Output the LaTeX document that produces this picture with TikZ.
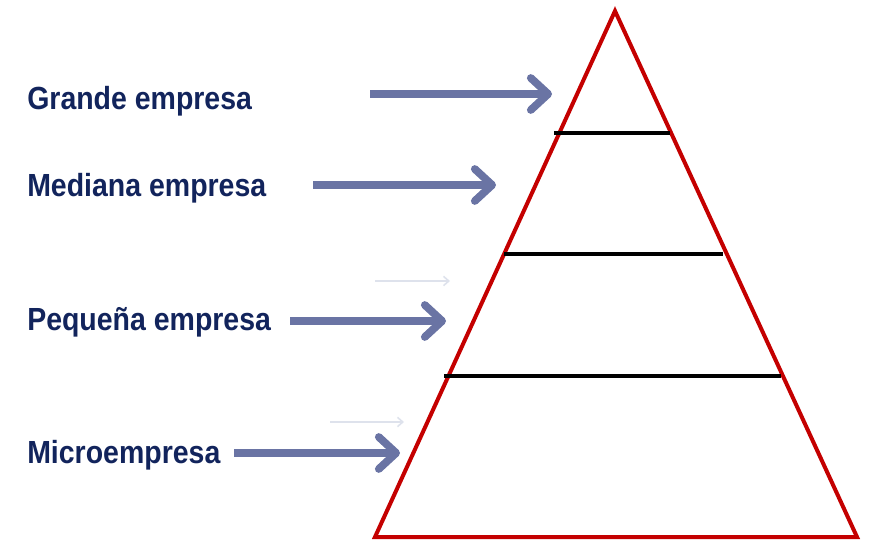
\documentclass[tikz,border=0pt]{standalone}
\usepackage{fontspec}
\setmainfont{Liberation Sans}
\newfontfamily\labelfont[FakeStretch=0.89]{Liberation Sans}
\usepackage{tikz}
\usetikzlibrary{arrows.meta}

\definecolor{navytext}{RGB}{18,36,92}
\definecolor{arrowblue}{RGB}{106,116,164}
\definecolor{fadedblue}{RGB}{222,226,236}
\definecolor{pyrred}{RGB}{196,0,0}

\begin{document}
\begin{tikzpicture}[
            x=0.75pt, y=-0.75pt,
            pyramid/.style={color=pyrred, line width=3pt, line join=miter},
            level/.style={color=black, line width=2.6pt},
            pointer/.style={color=arrowblue, line width=6.6pt, -{Straight Barb[length=13pt, width=24pt, line width=5.8pt, round]}},
            faded/.style={color=fadedblue, line width=1.2pt, -{Straight Barb[length=4pt, width=7pt]}},
            label/.style={anchor=base west, inner sep=0pt, color=navytext, font=\labelfont\bfseries\fontsize{24}{28}\selectfont}
        ]
            \useasboundingbox (0, 0) rectangle (871, 541);

            % triangle
            \coordinate (top) at (615, 11);
            \coordinate (bl) at (375, 537);
            \coordinate (br) at (857, 537);
            \draw[pyramid] (top) -- (br) -- (bl) -- cycle;

            % levels
            \coordinate (l1a) at (554, 133);
            \coordinate (l1b) at (670, 133);
            \coordinate (l2a) at (504, 254);
            \coordinate (l2b) at (723, 254);
            \coordinate (l3a) at (444, 376);
            \coordinate (l3b) at (781, 376);
            \draw[level] (l1a) -- (l1b);
            \draw[level] (l2a) -- (l2b);
            \draw[level] (l3a) -- (l3b);

            % labels
            \node[label] (grande) at (27, 110) {Grande empresa};
            \node[label] (mediana) at (27, 197) {Mediana empresa};
            \node[label] (pequena) at (27, 331) {Pequeña empresa};
            \node[label] (micro) at (27, 463) {Microempresa};

            % arrows
            \coordinate (g0) at (370, 94);
            \coordinate (g1) at (552, 94);
            \coordinate (m0) at (313, 185);
            \coordinate (m1) at (496, 185);
            \coordinate (p0) at (290, 321);
            \coordinate (p1) at (446, 321);
            \coordinate (c0) at (234, 453);
            \coordinate (c1) at (400, 453);
            \draw[pointer] (g0) -- (g1);
            \draw[pointer] (m0) -- (m1);
            \draw[pointer] (p0) -- (p1);
            \draw[pointer] (c0) -- (c1);

            % faint arrows
            \coordinate (f0) at (375, 281);
            \coordinate (f1) at (450, 281);
            \coordinate (h0) at (330, 422);
            \coordinate (h1) at (404, 422);
            \draw[faded] (f0) -- (f1);
            \draw[faded] (h0) -- (h1);

        \end{tikzpicture}
\end{document}
